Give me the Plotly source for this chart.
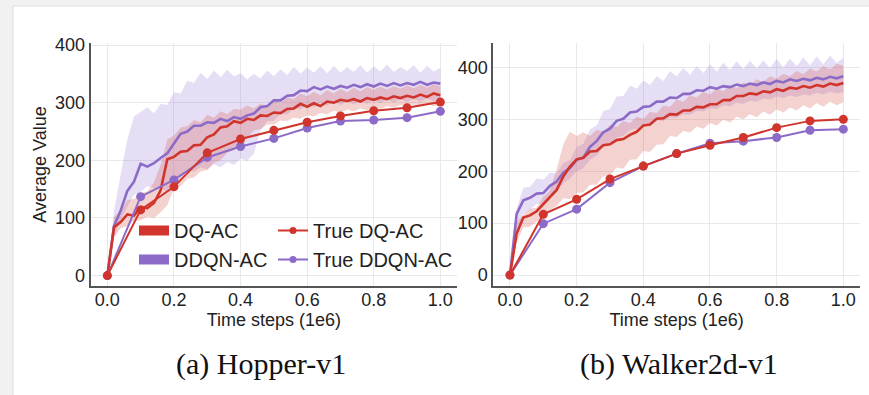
import plotly.graph_objects as go

# ---------------- data ----------------
t_curve = [round(0.02 * i, 2) for i in range(51)]
t_true = [0.0, 0.1, 0.2, 0.3, 0.4, 0.5, 0.6, 0.7, 0.8, 0.9, 1.0]
x_ticks = [0.0, 0.2, 0.4, 0.6, 0.8, 1.0]
y_ticks = [0, 100, 200, 300, 400]

# Hopper-v1
hop_dq_mean = [0, 84, 93, 106, 104, 119, 117, 126, 148, 202, 206, 215, 216, 226, 227, 240, 245, 257, 259, 268,
               265, 272, 270, 278, 277, 283, 282, 289, 290, 298, 293, 299, 294, 302, 300, 305, 303, 306, 302, 308,
               305, 309, 306, 311, 308, 312, 309, 314, 310, 316, 313]
hop_dq_hi = [0, 102, 112, 131, 133, 143, 146, 162, 192, 236, 243, 257, 259, 270, 266, 279, 274, 285, 280, 289,
             288, 295, 290, 298, 294, 304, 300, 309, 306, 316, 311, 319, 313, 322, 316, 324, 318, 326, 320, 327,
             322, 328, 323, 329, 324, 330, 325, 331, 326, 332, 328]
hop_dq_lo = [0, 66, 82, 86, 95, 96, 102, 100, 110, 122, 152, 155, 168, 170, 181, 183, 196, 200, 213, 218,
             233, 238, 252, 254, 262, 262, 269, 268, 274, 272, 278, 276, 282, 280, 286, 283, 288, 285, 290, 287,
             292, 289, 294, 291, 296, 292, 297, 293, 298, 294, 297]
hop_dd_mean = [0, 86, 113, 147, 163, 194, 189, 195, 204, 212, 229, 246, 250, 260, 260, 266, 265, 272, 268, 275,
               272, 278, 281, 292, 294, 304, 304, 312, 313, 321, 320, 327, 323, 328, 324, 329, 326, 331, 327, 332,
               328, 333, 329, 334, 330, 334, 331, 336, 331, 335, 333]
hop_dd_hi = [0, 112, 175, 236, 276, 284, 292, 281, 298, 296, 318, 316, 338, 334, 352, 341, 356, 344, 357, 346,
             351, 340, 350, 342, 356, 346, 358, 348, 362, 350, 361, 352, 363, 351, 364, 352, 362, 353, 365, 352,
             363, 354, 366, 353, 362, 355, 365, 352, 364, 354, 360]
hop_dd_lo = [0, 68, 97, 120, 140, 145, 155, 152, 153, 145, 168, 174, 185, 180, 188, 184, 193, 188, 197, 192,
             203, 199, 212, 252, 268, 268, 281, 279, 291, 288, 298, 292, 300, 295, 302, 296, 303, 297, 304, 298,
             305, 299, 306, 300, 306, 301, 307, 301, 308, 302, 306]
hop_true_dq = [0, 114, 154, 213, 237, 252, 266, 277, 286, 291, 301]
hop_true_dd = [0, 137, 166, 205, 224, 238, 256, 268, 270, 274, 285]

# Walker2d-v1
walk_dq_mean = [0, 80, 111, 115, 123, 137, 151, 164, 190, 209, 223, 226, 238, 239, 250, 252, 260, 262, 270, 276,
                288, 290, 301, 302, 310, 309, 317, 317, 324, 323, 329, 329, 337, 337, 345, 345, 350, 348, 354, 352,
                358, 355, 361, 359, 364, 361, 366, 363, 369, 366, 370]
walk_dq_hi = [0, 102, 116, 128, 130, 151, 163, 204, 252, 276, 268, 275, 268, 280, 276, 289, 285, 297, 293, 305,
              301, 314, 312, 326, 324, 338, 334, 346, 342, 353, 348, 359, 354, 365, 360, 371, 366, 377, 372, 383,
              378, 388, 383, 393, 387, 398, 392, 402, 396, 407, 403]
walk_dq_lo = [0, 63, 92, 93, 103, 107, 125, 133, 148, 146, 158, 159, 174, 174, 191, 192, 207, 205, 222, 223,
              239, 237, 251, 252, 268, 266, 278, 274, 286, 282, 293, 288, 299, 294, 305, 300, 310, 304, 315, 309,
              319, 313, 323, 317, 327, 321, 331, 324, 334, 327, 333]
walk_dd_mean = [0, 118, 144, 149, 157, 158, 172, 180, 197, 206, 222, 226, 247, 258, 275, 282, 297, 301, 313, 315,
                324, 325, 334, 334, 342, 341, 349, 349, 356, 355, 362, 359, 364, 362, 367, 364, 369, 366, 371, 368,
                374, 371, 377, 374, 378, 375, 380, 377, 382, 379, 383]
walk_dd_hi = [0, 128, 168, 170, 186, 184, 197, 196, 216, 221, 246, 253, 281, 288, 316, 320, 344, 345, 365, 359,
              375, 366, 383, 374, 393, 383, 399, 386, 402, 389, 406, 392, 409, 395, 412, 397, 413, 398, 414, 399,
              416, 400, 417, 402, 419, 404, 421, 406, 423, 409, 418]
walk_dd_lo = [0, 88, 117, 126, 137, 138, 152, 160, 177, 186, 200, 206, 222, 230, 247, 253, 265, 268, 280, 282,
              292, 291, 298, 297, 304, 303, 310, 309, 316, 315, 322, 320, 327, 325, 332, 330, 336, 334, 340, 338,
              344, 341, 346, 343, 348, 346, 351, 348, 353, 350, 352]
walk_true_dq = [0, 117, 146, 185, 210, 234, 250, 265, 284, 297, 300]
walk_true_dd = [0, 99, 127, 178, 210, 234, 254, 258, 265, 279, 281]

series_names = ["DQ-AC", "DDQN-AC", "True DQ-AC", "True DDQN-AC"]
panel_titles = ["(a) Hopper-v1", "(b) Walker2d-v1"]
x_title = "Time steps (1e6)"
y_title = "Average Value"

# ---------------- style ----------------
RED = "#d0342c"
PURPLE = "#8c6bc8"
RED_BAND = "rgba(214,80,74,0.26)"
PURPLE_BAND = "rgba(150,118,208,0.24)"
W, H = 869, 395


def px_x(p):
    return p / W


def px_y(p):
    return (H - p) / H


fig = go.Figure()

panels = [
    dict(xa="x", ya="y", dq=(hop_dq_mean, hop_dq_hi, hop_dq_lo), dd=(hop_dd_mean, hop_dd_hi, hop_dd_lo),
         tdq=hop_true_dq, tdd=hop_true_dd),
    dict(xa="x2", ya="y2", dq=(walk_dq_mean, walk_dq_hi, walk_dq_lo), dd=(walk_dd_mean, walk_dd_hi, walk_dd_lo),
         tdq=walk_true_dq, tdd=walk_true_dd),
]

for p in panels:
    for (mean, hi, lo), band in ((p["dd"], PURPLE_BAND), (p["dq"], RED_BAND)):
        fig.add_trace(go.Scatter(x=t_curve + t_curve[::-1], y=hi + lo[::-1], fill="toself", fillcolor=band,
                                 mode="none", hoverinfo="skip", showlegend=False, xaxis=p["xa"], yaxis=p["ya"]))
    fig.add_trace(go.Scatter(x=t_curve, y=p["dd"][0], mode="lines", line=dict(color=PURPLE, width=2.6),
                             showlegend=False, xaxis=p["xa"], yaxis=p["ya"]))
    fig.add_trace(go.Scatter(x=t_curve, y=p["dq"][0], mode="lines", line=dict(color=RED, width=2.6),
                             showlegend=False, xaxis=p["xa"], yaxis=p["ya"]))
    fig.add_trace(go.Scatter(x=t_true, y=p["tdd"], mode="lines+markers", line=dict(color=PURPLE, width=2),
                             marker=dict(color=PURPLE, size=9), showlegend=False, xaxis=p["xa"], yaxis=p["ya"]))
    fig.add_trace(go.Scatter(x=t_true, y=p["tdq"], mode="lines+markers", line=dict(color=RED, width=2),
                             marker=dict(color=RED, size=9), showlegend=False, xaxis=p["xa"], yaxis=p["ya"]))

# legend entries
for name, col in ((series_names[0], RED), (series_names[1], PURPLE)):
    fig.add_trace(go.Scatter(x=[None], y=[None], mode="lines", line=dict(color=col, width=11),
                             name=name, legend="legend", xaxis="x", yaxis="y"))
for name, col in ((series_names[2], RED), (series_names[3], PURPLE)):
    fig.add_trace(go.Scatter(x=[None], y=[None], mode="lines+markers", line=dict(color=col, width=2),
                             marker=dict(color=col, size=7), name=name, legend="legend2", xaxis="x", yaxis="y"))

FONT = "Liberation Sans, Arial, sans-serif"
SERIF = "Liberation Serif, Times New Roman, serif"
axis_common = dict(showgrid=True, gridcolor="#e9e9e9", gridwidth=1, showline=True, linecolor="#555555",
                   linewidth=2, ticks="", zeroline=False, tickfont=dict(family=FONT, size=18, color="#222"),
                   automargin=False)

xdom1 = [px_x(90.7), px_x(457)]
xdom2 = [px_x(493.3), px_x(860)]
ydom = [px_y(286), px_y(43)]

fig.update_layout(
    width=W, height=H, margin=dict(l=0, r=0, t=0, b=0),
    paper_bgcolor="#f1f1f1", plot_bgcolor="white",
    font=dict(family=FONT, color="#222"),
    xaxis=dict(domain=xdom1, range=[-0.05, 1.05], tickvals=x_ticks, tickformat=".1f", anchor="y",
               ticklabelstandoff=-4,
               title=dict(text=x_title, font=dict(size=18, family=FONT, color="#222"), standoff=4), **axis_common),
    yaxis=dict(domain=ydom, range=[-18, 403.5], tickvals=y_ticks, anchor="x",
               title=dict(text=y_title, font=dict(size=18, family=FONT, color="#222"), standoff=4), **axis_common),
    xaxis2=dict(domain=xdom2, range=[-0.05, 1.05], tickvals=x_ticks, tickformat=".1f", anchor="y2",
                ticklabelstandoff=-4,
                title=dict(text=x_title, font=dict(size=18, family=FONT, color="#222"), standoff=4), **axis_common),
    yaxis2=dict(domain=ydom, range=[-21, 447], tickvals=y_ticks, anchor="x2", **axis_common),
    legend=dict(x=px_x(134), y=px_y(211), xanchor="left", yanchor="top", bgcolor="rgba(0,0,0,0)",
                font=dict(family=FONT, size=20, color="#222"), tracegroupgap=0, itemwidth=30),
    legend2=dict(x=px_x(273), y=px_y(211), xanchor="left", yanchor="top", bgcolor="rgba(0,0,0,0)",
                 font=dict(family=FONT, size=20, color="#222"), tracegroupgap=0, itemwidth=30),
    shapes=[dict(type="rect", xref="paper", yref="paper", x0=px_x(13), x1=1.01, y0=-0.01, y1=px_y(6),
                 fillcolor="white", line=dict(color="#dddddd", width=1), layer="below")],
    annotations=[
        dict(text=panel_titles[0], xref="paper", yref="paper", x=px_x(261), y=px_y(364), showarrow=False,
             xanchor="center", yanchor="middle", font=dict(family=SERIF, size=30, color="#111")),
        dict(text=panel_titles[1], xref="paper", yref="paper", x=px_x(679), y=px_y(364), showarrow=False,
             xanchor="center", yanchor="middle", font=dict(family=SERIF, size=30, color="#111")),
    ],
)

fig.write_html("out.html", config={"displayModeBar": False},
               post_script="document.body.style.margin='0px';document.body.style.overflow='hidden';")
